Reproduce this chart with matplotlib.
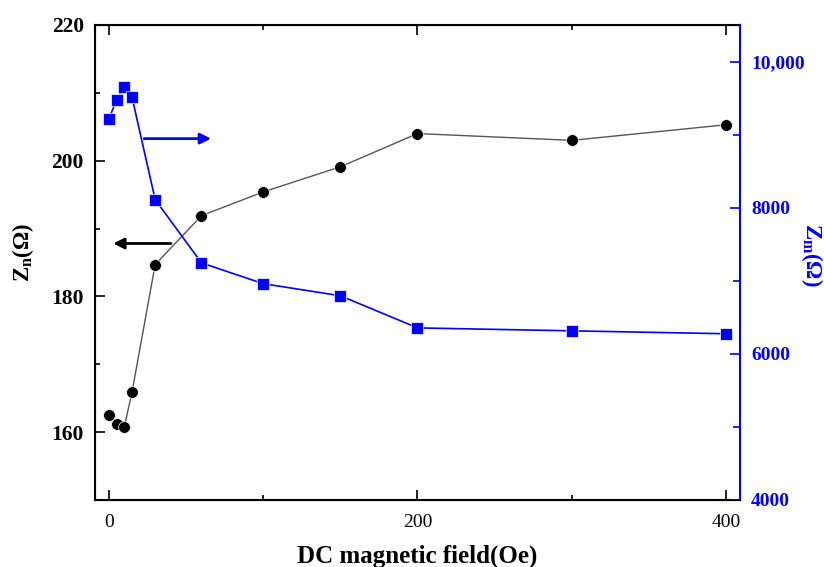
import matplotlib.pyplot as plt
from matplotlib.ticker import MultipleLocator, FuncFormatter

plt.rcParams['font.family'] = ['Liberation Serif', 'DejaVu Serif']
plt.rcParams['mathtext.fontset'] = 'custom'
plt.rcParams['mathtext.rm'] = 'Liberation Serif:bold'
plt.rcParams['mathtext.it'] = 'Liberation Serif:bold'

field = [0, 5, 10, 15, 30, 60, 100, 150, 200, 300, 400]
zn = [162.5, 161.2, 160.8, 165.9, 184.7, 191.9, 195.4, 199.1, 204.0, 203.0, 205.3]
zm = [9220, 9470, 9645, 9510, 8110, 7245, 6960, 6795, 6355, 6315, 6275]

fig = plt.figure(figsize=(8.24, 5.67), dpi=100)
ax = fig.add_axes([95/824, 67/567, 645/824, 475/567])
ax2 = ax.twinx()

ax.plot(field, zn, '-', color='#555555', lw=1, zorder=2)
ax.plot(field, zn, 'o', color='black', ms=8.5, mec='white', mew=0.5, zorder=3)
ax2.plot(field, zm, '-s', color='blue', lw=1.2, ms=8, mec='white', mew=0.5)

ax.set_xlim(-9, 409)
ax.set_ylim(150, 220)
ax2.set_ylim(4000, 10500)

ax.xaxis.set_major_locator(MultipleLocator(200))
ax.xaxis.set_minor_locator(MultipleLocator(100))
ax.yaxis.set_major_locator(MultipleLocator(20))
ax.yaxis.set_minor_locator(MultipleLocator(10))
ax2.yaxis.set_major_locator(MultipleLocator(2000))
ax2.yaxis.set_minor_locator(MultipleLocator(1000))
ax2.yaxis.set_major_formatter(FuncFormatter(lambda v, p: '10,000' if v == 10000 else '%d' % v))

ax.tick_params(which='both', direction='in', top=True, width=1.2)
ax.tick_params(which='major', length=7)
ax.tick_params(which='minor', length=3.6)
ax.tick_params(axis='y', labelsize=15.5, pad=8)
ax.tick_params(axis='x', labelsize=14, pad=10)
for t in ax.get_yticklabels():
    t.set_fontweight('bold')
ax2.tick_params(which='both', direction='in', colors='blue', labelsize=14, width=1.2, pad=8)
ax2.tick_params(which='major', length=7)
ax2.tick_params(which='minor', length=5)
for t in ax2.get_yticklabels():
    t.set_fontweight('bold')

for s in ['left', 'bottom', 'top']:
    ax.spines[s].set_linewidth(1.5)
ax2.spines['right'].set_color('blue')
ax2.spines['right'].set_linewidth(1.5)
ax.spines['right'].set_visible(False)

ax.set_xlabel('DC magnetic field(Oe)', fontsize=18, fontweight='bold')
ax.xaxis.set_label_coords(0.5, -0.094)
ax.set_ylabel(r'Z$_\mathrm{n}$($\Omega$)', fontsize=16.5, fontweight='bold', va='center')
ax.yaxis.set_label_coords(-0.112, 0.522)
ax2.set_ylabel(r'Z$_\mathrm{m}$($\Omega$)', fontsize=16.5, fontweight='bold', color='blue',
               rotation=270, va='center')
ax2.yaxis.set_label_coords(1.112, 0.516)

ax2.annotate('', xy=(68, 8945), xytext=(21, 8945),
             arrowprops=dict(arrowstyle='-|>', color='blue', lw=2, mutation_scale=16))
ax.annotate('', xy=(1, 187.8), xytext=(42, 187.8),
            arrowprops=dict(arrowstyle='-|>', color='black', lw=2, mutation_scale=16))

fig.savefig('out.png', dpi=100)
